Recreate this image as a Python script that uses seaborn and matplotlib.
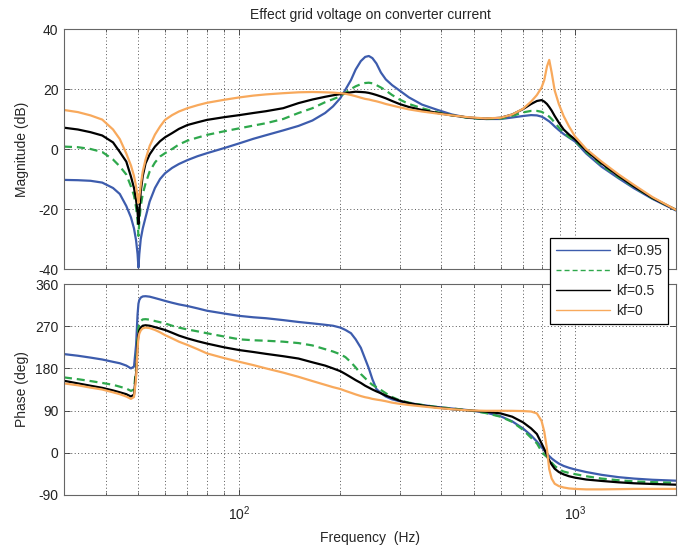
import numpy as np
import pandas as pd
import matplotlib
matplotlib.use("Agg")
import matplotlib.pyplot as plt
from matplotlib import font_manager
from matplotlib.ticker import LogLocator, FixedLocator, NullFormatter
import seaborn as sns

# ---------------- data ----------------
freq_hz = [30, 33, 36, 39, 42, 44, 46, 47.5, 48.5, 49.2,
           49.7, 50, 50.3, 50.8, 51.5, 52.5, 54, 56, 58, 60,
           63, 66, 70, 75, 80, 90, 100, 110, 120, 135,
           150, 165, 180, 190, 200, 207, 215, 222, 230, 237,
           243, 249, 256, 264, 273, 285, 300, 320, 350, 390,
           430, 480, 540, 600, 650, 700, 740, 770, 795, 810,
           825, 838, 852, 870, 895, 925, 960, 1000, 1080, 1200,
           1350, 1500, 1700, 2000]

mag_kf095 = [-10.3, -10.4, -10.6, -11.2, -13.0, -15.0, -19.0, -22.8, -26.5, -30.5,
             -35, -39.5, -35, -30, -26.5, -22.8, -17.5, -13, -10, -8.1,
             -6.3, -5.0, -3.7, -2.4, -1.4, 0.3, 1.9, 3.4, 4.6, 6.2,
             7.7, 9.5, 12.0, 14.2, 17.0, 19.8, 23.0, 26.5, 29.3, 30.7,
             31.0, 30.3, 28.5, 25.5, 23.2, 21.3, 19.5, 17.2, 14.8, 13.0,
             11.5, 10.4, 10.0, 10.0, 10.5, 11.0, 11.3, 11.2, 10.8, 10.3,
             9.7, 9.2, 8.5, 7.5, 6.3, 5.0, 3.8, 2.5, -1.5, -5.9,
             -9.8, -13.1, -16.6, -20.5]
mag_kf075 = [0.8, 0.6, 0.0, -1.0, -3.5, -5.8, -8.5, -12.5, -15.5, -19.5,
             -24, -29, -24, -19, -15, -11.5, -7.5, -4.5, -2.5, -1.4,
             0.0, 1.5, 2.8, 3.8, 4.7, 5.9, 6.9, 7.8, 8.6, 10.0,
             12.0, 13.6, 15.6, 16.6, 17.6, 18.8, 20.0, 20.9, 21.6, 22.0,
             22.1, 21.9, 21.3, 20.5, 19.5, 18.0, 16.5, 15.0, 13.6, 12.2,
             11.2, 10.4, 10.0, 10.1, 11.0, 12.2, 12.7, 12.7, 12.4, 11.9,
             11.3, 10.8, 10.0, 8.8, 7.2, 5.5, 4.0, 2.7, -1.0, -5.4,
             -9.4, -12.7, -16.4, -20.3]
mag_kf05 = [7.1, 6.5, 5.6, 4.5, 2.2, -1.0, -4.2, -9.2, -13, -17,
            -21, -25, -21, -14, -9, -4.8, -1.8, 0.8, 2.6, 3.9,
            5.3, 6.7, 8.0, 8.9, 9.7, 10.6, 11.3, 12.0, 12.6, 13.6,
            15.3, 16.5, 17.4, 17.9, 18.3, 18.6, 18.9, 19.1, 19.0, 18.9,
            18.7, 18.4, 18.0, 17.5, 16.9, 16.0, 15.0, 14.0, 13.0, 12.0,
            11.2, 10.5, 10.1, 10.4, 11.5, 13.3, 15.0, 16.0, 16.3, 15.8,
            15.0, 14.0, 12.8, 11.0, 8.8, 6.5, 4.8, 3.2, -0.5, -4.8,
            -9.0, -12.5, -16.3, -20.3]
mag_kf0 = [13.0, 12.3, 11.2, 9.8, 6.5, 3.3, -1.5, -5.5, -9, -12.5,
           -16, -18, -16, -12, -7.5, -3.5, 1.0, 4.8, 7.5, 9.7,
           11.3, 12.5, 13.6, 14.6, 15.4, 16.4, 17.2, 17.8, 18.2, 18.6,
           18.9, 19.0, 18.9, 18.8, 18.6, 18.4, 18.0, 17.6, 17.1, 16.7,
           16.5, 16.2, 15.9, 15.5, 15.0, 14.5, 13.9, 13.2, 12.5, 11.8,
           11.2, 10.6, 10.2, 10.4, 11.5, 13.4, 15.8, 18.0, 20.5, 23.0,
           27.5, 29.7, 25.5, 19.5, 15.0, 11.0, 7.5, 4.2, 0.0, -4.2,
           -8.5, -12.0, -16.0, -20.3]

phase_kf095 = [210.5, 207, 203, 199, 194, 191, 186, 180, 184, 230,
               295, 318, 326, 331, 333.5, 334, 333, 330, 327, 324,
               320, 316.5, 313, 308, 303, 297, 292, 289, 287, 283,
               279, 276, 273, 271, 267, 262, 255, 242, 224, 200,
               180, 157, 136, 127, 120, 114, 110, 106, 102, 97.5,
               94.5, 91, 86, 78, 67, 52, 37, 24, 12, 5,
               -2, -7, -12, -17, -23, -28, -32, -35.5, -41, -47,
               -52, -55, -57.5, -59.5]
phase_kf075 = [160.8, 157, 153, 149, 145, 141, 137, 132, 135, 180,
               245, 266, 275, 281, 284.5, 285, 284, 281, 278.5, 276,
               271, 267, 263, 259, 255, 248, 242, 240, 239, 237,
               234, 229, 221, 216, 210, 204, 193, 182, 168, 159,
               151, 145, 140, 134, 127, 119, 112, 107, 102, 97.5,
               94.5, 91, 85, 77, 66, 49, 32, 20, 3, -4,
               -9, -15, -21, -28, -35, -40, -43, -45.5, -50, -55,
               -58.5, -61, -62.5, -64]
phase_kf05 = [153.6, 148, 143, 138.5, 133, 129, 125, 120, 124, 170,
              232, 252, 261, 267, 271, 272, 271, 268, 265, 262,
              256, 250, 244, 238, 233, 225, 219, 215, 211, 206,
              201, 193, 186, 180, 174, 168, 161, 155, 149, 143,
              139, 135, 131, 127, 122, 117, 111, 106, 101, 96.5,
              93, 90.5, 88, 84, 77, 65, 52, 40, 20, 8,
              -5, -16, -25, -34, -41, -46, -50, -53, -57, -60,
              -63, -65, -66.5, -68]
phase_kf0 = [148, 144, 139, 135, 129, 125, 120, 115, 119, 160,
             222, 245, 254, 261, 265.5, 267, 266, 262, 257, 251,
             244, 237, 230, 221, 212, 202, 194, 187, 180, 171,
             162, 153, 145, 140, 136, 132, 128, 124.5, 121, 118.5,
             117, 115, 113.5, 112, 110, 107, 104.5, 102, 99, 95.5,
             93, 90.5, 89.6, 89.6, 89.5, 89, 88, 84, 68, 45,
             8, -35, -55, -66, -71, -74, -76, -77, -78, -78,
             -77.5, -77, -77, -77]

series_labels = ["kf=0.95", "kf=0.75", "kf=0.5", "kf=0"]
mag_series = [mag_kf095, mag_kf075, mag_kf05, mag_kf0]
phase_series = [phase_kf095, phase_kf075, phase_kf05, phase_kf0]

mag_ticks = [-40, -20, 0, 20, 40]
phase_ticks = [-90, 0, 90, 180, 270, 360]
freq_major_ticks = [100, 1000]
freq_tick_labels = [r"$\mathdefault{10^{2}}$", r"$\mathdefault{10^{3}}$"]

# ---------------- styling ----------------
colors = {"kf=0.95": "#3d5cad", "kf=0.75": "#2ea84c", "kf=0.5": "#000000", "kf=0": "#f8a95c"}
dashes = {"kf=0.95": "", "kf=0.75": (3.6, 2.2), "kf=0.5": "", "kf=0": ""}

sns.set_theme(style="white")
names = {f.name for f in font_manager.fontManager.ttflist}
narrow = "Liberation Sans Narrow" if "Liberation Sans Narrow" in names else "Liberation Sans"
plt.rcParams["font.family"] = [narrow, "DejaVu Sans"]
plt.rcParams["axes.unicode_minus"] = False
plt.rcParams["mathtext.fontset"] = "custom"
plt.rcParams["mathtext.rm"] = narrow
plt.rcParams["mathtext.it"] = narrow

rows = []
for lab, m, p in zip(series_labels, mag_series, phase_series):
    for f, mv, pv in zip(freq_hz, m, p):
        rows.append({"freq": f, "mag": mv, "phase": pv, "kf": lab})
df = pd.DataFrame(rows)

fig = plt.figure(figsize=(6.88, 5.52), dpi=100)
ax1 = fig.add_axes([64 / 688, 1 - 269 / 552, 612 / 688, 240 / 552])
ax2 = fig.add_axes([64 / 688, 1 - 495 / 552, 612 / 688, 211 / 552])

for ax, col in ((ax1, "mag"), (ax2, "phase")):
    sns.lineplot(data=df, x="freq", y=col, hue="kf", style="kf",
                 hue_order=series_labels, style_order=series_labels,
                 palette=colors, dashes=dashes, estimator=None, sort=False,
                 linewidth=1.6, legend=False, ax=ax)
    ax.set_xscale("log")
    ax.set_xlim(30, 2000)
    ax.xaxis.set_major_locator(FixedLocator(freq_major_ticks))
    ax.xaxis.set_minor_locator(LogLocator(base=10, subs=np.arange(2, 10), numticks=20))
    ax.xaxis.set_minor_formatter(NullFormatter())
    ax.grid(True, which="major", axis="both", linestyle=(0, (1, 2.5)), color="#555555", linewidth=0.7)
    ax.grid(True, which="minor", axis="x", linestyle=(0, (1, 2.5)), color="#555555", linewidth=0.7)
    ax.tick_params(axis="both", which="both", direction="in", top=True, right=True,
                   bottom=True, left=True, colors="#333333", labelcolor="#222222",
                   labelsize=10)
    ax.tick_params(axis="both", which="major", length=4.5, width=0.6)
    ax.tick_params(axis="x", which="minor", length=2.5, width=0.5)
    ax.tick_params(axis="y", pad=4)
    ax.tick_params(axis="x", pad=7)
    for s in ax.spines.values():
        s.set_color("#666666")
        s.set_linewidth(0.8)
    ax.set_facecolor("white")

ax1.set_ylim(-40, 40)
ax1.set_yticks(mag_ticks)
ax1.set_yticklabels([str(t) for t in mag_ticks])
ax1.tick_params(axis="x", labelbottom=False)
ax1.set_xlabel("")
ax1.set_ylabel("Magnitude (dB)", fontsize=10, family=["Liberation Sans", "DejaVu Sans"])
ax1.yaxis.set_label_coords(-0.058, 0.5)
ax1.set_title("Effect grid voltage on converter current", fontsize=10, pad=7)

ax2.set_ylim(-90, 360)
ax2.set_yticks(phase_ticks)
ax2.set_yticklabels([str(t) for t in phase_ticks])
ax2.set_xticklabels(freq_tick_labels)
ax2.set_ylabel("Phase (deg)", fontsize=10, family=["Liberation Sans", "DejaVu Sans"])
ax2.yaxis.set_label_coords(-0.058, 0.5)
ax2.set_xlabel("Frequency  (Hz)", fontsize=10)
ax2.xaxis.set_label_coords(0.5, -0.172)

handles = ax1.get_lines()[:4]
leg = fig.legend(handles, series_labels, loc="upper right",
                 bbox_to_anchor=(668 / 688, 1 - 238 / 552), bbox_transform=fig.transFigure,
                 frameon=True, fancybox=False, edgecolor="black", framealpha=1,
                 fontsize=10, handlelength=3.9, handletextpad=0.4, labelspacing=0.42,
                 borderpad=0.45, borderaxespad=0)
leg.get_frame().set_linewidth(0.9)
for ln in leg.get_lines():
    ln.set_linewidth(1.0)

fig.savefig("out.png", dpi=100, facecolor="white")
